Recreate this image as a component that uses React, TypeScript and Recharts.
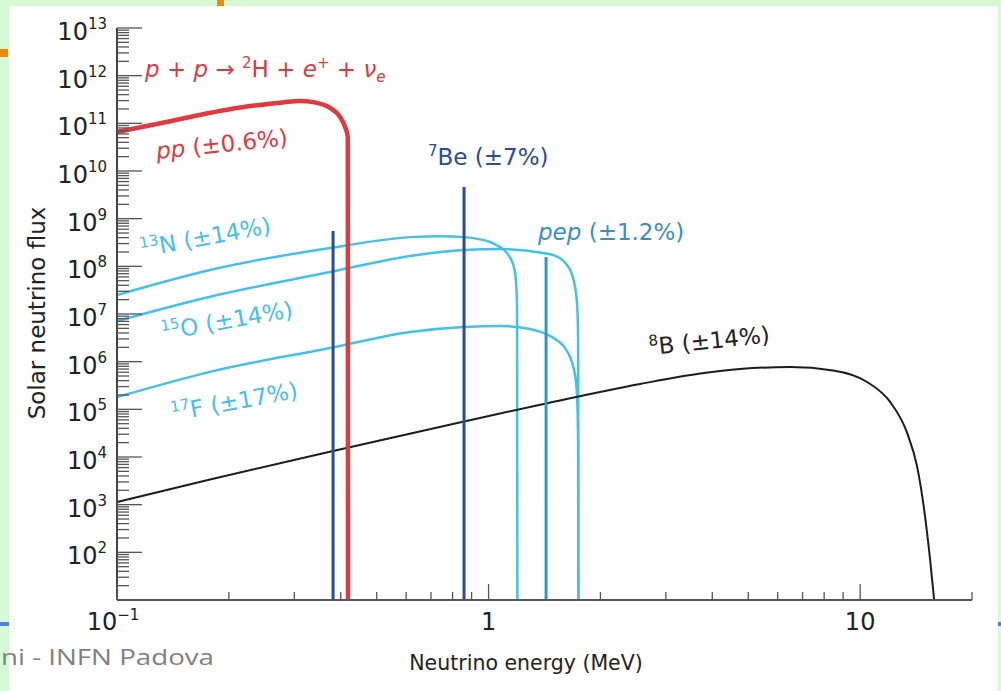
import React from 'react';
import { LineChart, Line, XAxis, YAxis } from 'recharts';

// energies in MeV, fluxes
const ppEnergy = [0.1, 0.13, 0.167, 0.228, 0.28, 0.31, 0.34, 0.3745, 0.3985, 0.411, 0.418, 0.4185];
const ppFlux = [6.6e10, 9.9e10, 1.5e11, 2.3e11, 2.75e11, 2.95e11, 2.75e11, 2.1e11, 1.36e11, 8.4e10, 5.2e10, 10];

const n13Energy = [0.1, 0.178, 0.3745, 0.615, 0.74, 0.859, 1.0093, 1.0606, 1.1007, 1.1355, 1.1603, 1.1785, 1.188, 1.1932, 1.1954];
const n13Flux = [2.5e7, 8.4e7, 2.43e8, 4.1e8, 4.3e8, 4.1e8, 3.24e8, 2.67e8, 2.2e8, 1.65e8, 1.175e8, 7.24e7, 3.69e7, 1.21e7, 10];

const o15Energy = [0.1, 0.178, 0.3745, 0.615, 0.859, 1.074, 1.402, 1.4917, 1.5676, 1.6269, 1.6678, 1.6991, 1.7203, 1.7342, 1.7417, 1.745];
const o15Flux = [7.1e6, 2.3e7, 7.6e7, 1.65e8, 2.2e8, 2.3e8, 1.905e8, 1.73e8, 1.426e8, 1.067e8, 7.6e7, 4.69e7, 2.63e7, 1.21e7, 2.85e6, 10];

const f17Energy = [0.1, 0.178, 0.3745, 0.615, 0.859, 1.0738, 1.2934, 1.446, 1.5388, 1.6064, 1.657, 1.6938, 1.7203, 1.7342, 1.7417, 1.745];
const f17Flux = [1.8e5, 6.1e5, 1.94e6, 4.2e6, 5.35e6, 5.61e6, 4.85e6, 3.63e6, 2.72e6, 1.94e6, 1.25e6, 7.37e5, 3.57e5, 1.24e5, 2.28e4, 10];

const b8Energy = [0.1, 0.178, 0.3815, 0.859, 1.428, 2.557, 3.71, 4.75, 6.48, 8.46, 10.44, 12.04, 13.38, 14.24, 14.96, 15.43, 15.82];
const b8Flux = [1.14e3, 3.38e3, 1.34e4, 5.56e4, 1.33e5, 3.4e5, 5.65e5, 7.03e5, 7.7e5, 6.53e5, 3.75e5, 1.43e5, 3.2e4, 6.2e3, 5.5e2, 69, 10];

// line sources: [energy, peak flux]
const be7Low = [0.3815, 5.5e8];
const be7High = [0.859, 4.6e9];
const pepLine = [1.428, 1.57e8];

const xTicks = [0.1, 0.2, 0.3, 0.4, 0.5, 0.6, 0.7, 0.8, 0.9, 1, 2, 3, 4, 5, 6, 7, 8, 9, 10, 20];
const xLabelled = [0.1, 1, 10];
const yDecades = [1, 2, 3, 4, 5, 6, 7, 8, 9, 10, 11, 12];
const yMinor = [1, 2, 3, 4, 5, 6, 7, 8, 9];
const yTicks = [...yDecades.flatMap((d) => yMinor.map((m) => m * 10 ** d)), 1e13];

const pairs = (es: number[], fs: number[]) => es.map((e, i) => ({ e, f: fs[i] }));
const spike = ([e, top]: number[]) => [{ e, f: 10 }, { e, f: top }];

const RED = '#e0393e';
const CYAN = '#44c0ea';
const DBLUE = '#2c4c96';
const PEP = '#3595c7';
const FONT = "'DejaVu Sans', 'Liberation Sans', sans-serif";
const AXIS = '#555';

function YTick(props: any) {
  const { x, y, payload } = props;
  const lg = Math.log10(payload.value);
  const exp = Math.round(lg);
  const major = Math.abs(lg - exp) < 1e-6;
  return (
    <g>
      <line x1={x} y1={y} x2={x + (major ? 25 : 12)} y2={y} stroke={AXIS} strokeWidth={1.3} />
      {major && exp >= 2 && (
        <text x={x - 10} y={y + 12} textAnchor="end" fontSize={24} fill="#222" fontFamily={FONT}>
          10<tspan dy={-11} fontSize={15}>{exp}</tspan>
        </text>
      )}
    </g>
  );
}

function XTick(props: any) {
  const { x, y, payload } = props;
  const v = payload.value;
  const major = xLabelled.includes(v);
  return (
    <g>
      <line x1={x} y1={y} x2={x} y2={y - (major ? 16 : 8)} stroke={AXIS} strokeWidth={1.3} />
      {v === 0.1 && (
        <text x={x - 4} y={y + 30} textAnchor="middle" fontSize={24} fill="#222" fontFamily={FONT}>
          10<tspan dy={-10} fontSize={15}>−1</tspan>
        </text>
      )}
      {v === 1 && (
        <text x={x} y={y + 30} textAnchor="middle" fontSize={24} fill="#222" fontFamily={FONT}>1</text>
      )}
      {v === 10 && (
        <text x={x} y={y + 30} textAnchor="middle" fontSize={24} fill="#222" fontFamily={FONT}>10</text>
      )}
    </g>
  );
}

function Sup({ children }: { children: React.ReactNode }) {
  return <tspan fontSize={15} dy={-9}>{children}</tspan>;
}

export default function App() {
  return (
    <div style={{ position: 'absolute', left: 0, top: 0, width: 1001, height: 691, background: '#d5f9d5', overflow: 'hidden' }}>
      <div style={{ position: 'absolute', left: 9, top: 6, width: 989, height: 685, background: '#fefefe' }} />
      <div style={{ position: 'absolute', left: 217, top: 0, width: 7, height: 6, background: '#f28a00' }} />
      <div style={{ position: 'absolute', left: 0, top: 49, width: 8, height: 8, background: '#f28a00' }} />
      <div style={{ position: 'absolute', left: 0, top: 622, width: 9, height: 4, background: '#4a7fe0' }} />
      <div style={{ position: 'absolute', left: 998, top: 622, width: 3, height: 4, background: '#4a7fe0' }} />

      <div style={{ position: 'absolute', left: 0, top: 0 }}>
        <LineChart width={1001} height={691} margin={{ top: 28, right: 29, bottom: 51, left: 17 }}>
          <XAxis
            dataKey="e"
            type="number"
            scale="log"
            domain={[0.1, 20]}
            allowDataOverflow
            ticks={xTicks}
            interval={0}
            tick={(p: any) => <XTick {...p} />}
            tickLine={false}
            tickSize={0}
            tickMargin={0}
            height={40}
            axisLine={{ stroke: AXIS, strokeWidth: 2 }}
          />
          <YAxis
            type="number"
            scale="log"
            domain={[10, 1e13]}
            allowDataOverflow
            ticks={yTicks}
            interval={0}
            tick={(p: any) => <YTick {...p} />}
            tickLine={false}
            tickSize={0}
            tickMargin={0}
            width={100}
            axisLine={{ stroke: '#444', strokeWidth: 2 }}
          />
          <Line data={pairs(n13Energy, n13Flux)} dataKey="f" type="monotone" stroke={CYAN} strokeWidth={2.5} dot={false} activeDot={false} isAnimationActive={false} />
          <Line data={pairs(o15Energy, o15Flux)} dataKey="f" type="monotone" stroke={CYAN} strokeWidth={2.5} dot={false} activeDot={false} isAnimationActive={false} />
          <Line data={pairs(f17Energy, f17Flux)} dataKey="f" type="monotone" stroke={CYAN} strokeWidth={2.5} dot={false} activeDot={false} isAnimationActive={false} />
          <Line data={pairs(b8Energy, b8Flux)} dataKey="f" type="monotone" stroke="#1c1c1c" strokeWidth={2} dot={false} activeDot={false} isAnimationActive={false} />
          <Line data={spike(pepLine)} dataKey="f" type="linear" stroke={PEP} strokeWidth={3} dot={false} activeDot={false} isAnimationActive={false} />
          <Line data={spike(be7Low)} dataKey="f" type="linear" stroke={DBLUE} strokeWidth={3} dot={false} activeDot={false} isAnimationActive={false} />
          <Line data={spike(be7High)} dataKey="f" type="linear" stroke={DBLUE} strokeWidth={3} dot={false} activeDot={false} isAnimationActive={false} />
          <Line data={pairs(ppEnergy, ppFlux)} dataKey="f" type="monotone" stroke={RED} strokeWidth={4.5} dot={false} activeDot={false} isAnimationActive={false} />
        </LineChart>
      </div>

      <svg width={1001} height={691} style={{ position: 'absolute', left: 0, top: 0, pointerEvents: 'none' }} fontFamily={FONT}>
        <text x={145} y={77} fontSize={23} fill={RED}>
          <tspan fontStyle="italic">p</tspan> + <tspan fontStyle="italic">p</tspan> → <Sup>2</Sup><tspan dy={9}>H + </tspan>
          <tspan fontStyle="italic">e</tspan><Sup>+</Sup><tspan dy={9}> + </tspan>
          <tspan fontStyle="italic">ν</tspan><tspan fontStyle="italic" fontSize={15} dy={5}>e</tspan>
        </text>
        <text transform="translate(157,159) rotate(-6)" fontSize={23} fill={RED}>
          <tspan fontStyle="italic">pp</tspan> (±0.6%)
        </text>
        <text x={428} y={165} fontSize={23} fill={DBLUE}>
          <Sup>7</Sup><tspan dy={9}>Be (±7%)</tspan>
        </text>
        <text x={538} y={240} fontSize={23} fill="#3a8fc2">
          <tspan fontStyle="italic">pep</tspan> (±1.2%)
        </text>
        <text transform="translate(142,257) rotate(-10.5)" fontSize={23} fill={CYAN}>
          <Sup>13</Sup><tspan dy={9}>N (±14%)</tspan>
        </text>
        <text transform="translate(163,340) rotate(-10)" fontSize={23} fill={CYAN}>
          <Sup>15</Sup><tspan dy={9}>O (±14%)</tspan>
        </text>
        <text transform="translate(173,421) rotate(-10.5)" fontSize={23} fill={CYAN}>
          <Sup>17</Sup><tspan dy={9}>F (±17%)</tspan>
        </text>
        <text transform="translate(650,355) rotate(-6)" fontSize={23} fill="#222">
          <Sup>8</Sup><tspan dy={9}>B (±14%)</tspan>
        </text>
        <text x={526} y={670} textAnchor="middle" fontSize={20.5} fill="#222">Neutrino energy (MeV)</text>
        <text transform="translate(45,313) rotate(-90)" textAnchor="middle" fontSize={23} fill="#222">Solar neutrino flux</text>
        <text x={1} y={665} fontSize={21} fill="#808080" fontFamily="'Open Sans', sans-serif" textLength={213} lengthAdjust="spacingAndGlyphs">
          ni - INFN Padova
        </text>
      </svg>
    </div>
  );
}
